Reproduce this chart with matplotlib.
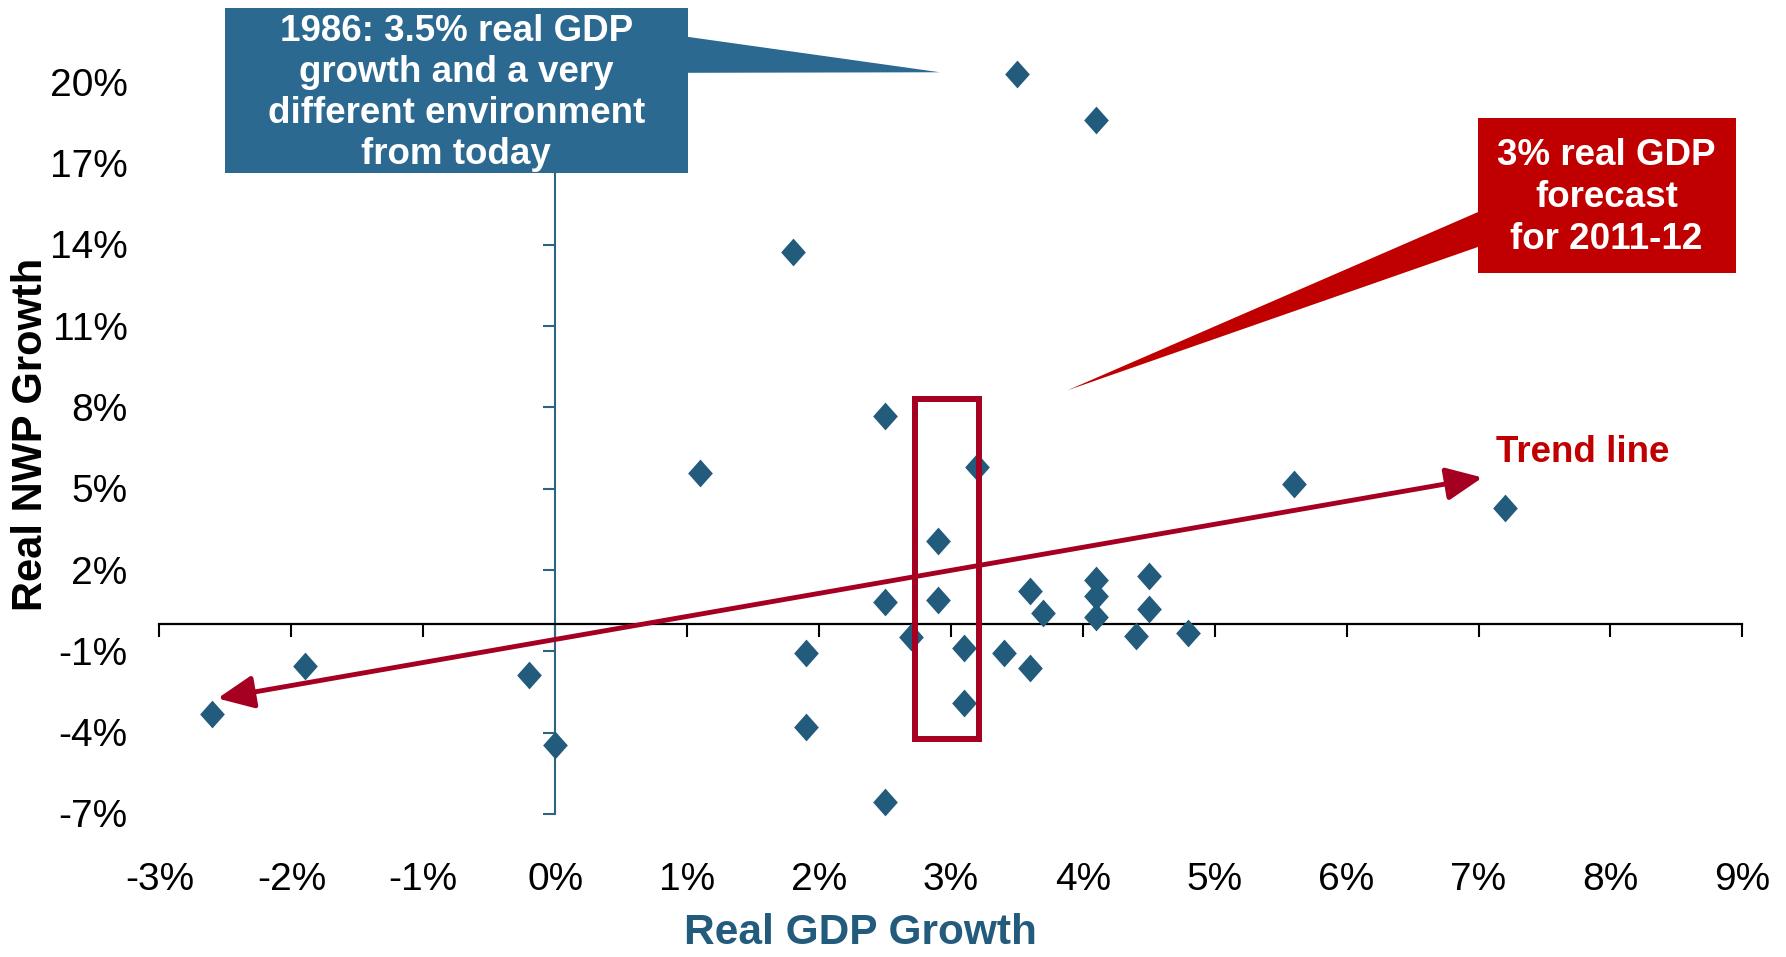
import numpy as np
import matplotlib
matplotlib.use("Agg")
import matplotlib.pyplot as plt
from matplotlib.patches import Rectangle, Polygon
from matplotlib.transforms import offset_copy

plt.rcParams["font.family"] = ["Liberation Sans", "DejaVu Sans"]

# ── Дані: реальний ріст ВВП (x) та реальний ріст NWP (y), % ─────────────────
gdp_growth = [3.5, 4.1, 1.8, 2.5, 1.1, 3.2, 5.6, 7.2, 2.9, 2.5, 2.9, 2.7,
              3.1, 3.4, 3.6, 3.7, 3.6, 3.1, 4.1, 4.1, 4.1, 4.5, 4.5, 4.4,
              4.8, 2.5, -1.9, -0.2, -2.6, 0.0, 1.9, 1.9]
nwp_growth = [20.3, 18.6, 13.75, 7.7, 5.57, 5.82, 5.18, 4.29, 3.09, 0.81, 0.9, -0.48,
              -0.89, -1.06, 1.22, 0.41, -1.62, -2.9, 1.64, 1.06, 0.26, 1.77, 0.57, -0.42,
              -0.33, -6.54, -1.54, -1.86, -3.31, -4.45, -1.06, -3.8]

x_ticks = list(range(-3, 10))
y_ticks = list(range(-7, 21, 3))

# лінія тренду
trend_slope = 0.85
trend_intercept = -0.56
trend_x = [-2.56, 7.03]

# прогноз 3% на 2011-12: рамка навколо
forecast_x = [2.73, 3.21]
forecast_y = [-4.22, 8.32]

# ── Кольори ──────────────────────────────────────────────────────────────────
BLUE_PT = "#235B7D"
BLUE_BOX = "#2B6990"
BLUE_AX = "#2E6384"
RED_BOX = "#C00000"
RED_LINE = "#A50021"

fig = plt.figure(figsize=(17.86, 9.57), dpi=100)
ax = fig.add_axes([0.07453, 0.14096, 0.91579, 0.82968])
ax.set_xlim(-3.2, 9.2)
ax.set_ylim(-7.3, 22)

# осі перетинаються в нулі
for s in ["top", "right"]:
    ax.spines[s].set_visible(False)
ax.spines["left"].set_position(("data", 0))
ax.spines["bottom"].set_position(("data", 0))
ax.spines["left"].set_bounds(-7, 21)
ax.spines["bottom"].set_bounds(-3, 9)
ax.spines["left"].set_color(BLUE_AX)
ax.spines["left"].set_linewidth(1.5)
ax.spines["bottom"].set_color("black")
ax.spines["bottom"].set_linewidth(1.6)

ax.set_xticks(x_ticks)
ax.set_yticks(y_ticks)
ax.tick_params(axis="x", direction="out", length=9.5, width=1.5, color="black",
               labelbottom=False)
ax.tick_params(axis="y", direction="out", length=9, width=1.5, color=BLUE_AX,
               labelleft=False)

# підписи тиків внизу і ліворуч, як в Excel ("low")
xt = offset_copy(ax.get_xaxis_transform(), fig=fig, y=-2, units="points")
yt = offset_copy(ax.get_yaxis_transform(), fig=fig, y=-2.5, units="points")
for v in x_ticks:
    ax.text(v, -0.069, f"{v}%", transform=xt, ha="center", va="center", fontsize=28)
for v in y_ticks:
    ax.text(-0.0034, v, f"{v}%", transform=yt, ha="right", va="center", fontsize=28)

fig.text(0.01736, 0.5465, "Real NWP Growth", rotation=90, ha="center", va="center",
         fontsize=30, fontweight="bold", color="black")
fig.text(0.4815, 0.004, "Real GDP Growth", ha="center", va="bottom",
         fontsize=30.5, fontweight="bold", color=BLUE_PT)

# ── Точки ────────────────────────────────────────────────────────────────────
diamond = [(0, 1), (0.89, 0), (0, -1), (-0.89, 0), (0, 1)]
ax.scatter(gdp_growth, nwp_growth, marker=diamond, s=20 ** 2, color=BLUE_PT,
           linewidths=0, zorder=4)

# ── Лінія тренду зі стрілками ────────────────────────────────────────────────
ty = [trend_intercept + trend_slope * v for v in trend_x]
ax.annotate("", xy=(trend_x[1], ty[1]), xytext=(trend_x[0], ty[0]),
            arrowprops=dict(arrowstyle="<|-|>,head_length=0.44,head_width=0.2",
                            mutation_scale=50, color=RED_LINE, lw=3.5,
                            shrinkA=0, shrinkB=0), zorder=3)
ax.text(7.13, 6.33, "Trend line", color=RED_BOX, fontsize=26.5, fontweight="bold",
        ha="left", va="center")

# рамка навколо 3%
ax.add_patch(Rectangle((forecast_x[0], forecast_y[0]),
                       forecast_x[1] - forecast_x[0], forecast_y[1] - forecast_y[0],
                       fill=False, edgecolor=RED_LINE, lw=4.3, zorder=5))

# ── Виноски ──────────────────────────────────────────────────────────────────
ax.add_patch(Polygon([(1.0, 21.68), (2.916, 20.37), (1.0, 20.35)], closed=True,
                     facecolor=BLUE_BOX, edgecolor="none", clip_on=False, zorder=6))
ax.add_patch(Rectangle((-2.506, 16.65), 1.008 + 2.506, 22.74 - 16.65,
                       facecolor=BLUE_BOX, edgecolor="none", clip_on=False, zorder=6))
ax.text(-0.75, 19.62, "1986: 3.5% real GDP\ngrowth and a very\ndifferent environment\nfrom today",
        color="white", fontsize=26.5, fontweight="bold", ha="center", va="center",
        linespacing=1.22, zorder=7)

ax.add_patch(Polygon([(7.0, 15.22), (3.882, 8.63), (7.0, 13.93)], closed=True,
                     facecolor=RED_BOX, edgecolor="none", clip_on=False, zorder=6))
ax.add_patch(Rectangle((6.998, 12.95), 8.949 - 6.998, 18.67 - 12.95,
                       facecolor=RED_BOX, edgecolor="none", clip_on=False, zorder=6))
ax.text(7.97, 15.75, "3% real GDP\nforecast\nfor 2011-12",
        color="white", fontsize=26.5, fontweight="bold", ha="center", va="center",
        linespacing=1.26, zorder=7)

fig.savefig("out.png", dpi=100)
